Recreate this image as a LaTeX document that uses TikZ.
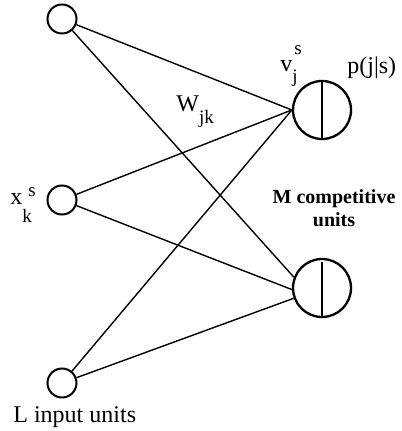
\documentclass[tikz,border=0pt]{standalone}
\usepackage{fontspec}
\setmainfont{Liberation Serif}
\usetikzlibrary{positioning}

\newcommand{\idx}{\fontsize{9.5}{10}\selectfont}

\begin{document}
\begin{tikzpicture}[
  x=0.5pt,y=-0.5pt,
  inunit/.style={draw,circle,line width=1pt,minimum size=14.5pt,inner sep=0pt},
  outunit/.style={draw,circle,line width=1.15pt,minimum size=29pt,inner sep=0pt},
  link/.style={line width=0.7pt},
  divider/.style={line width=0.65pt},
  lbl/.style={anchor=base west,inner sep=0pt,font=\fontsize{12}{14}\selectfont},
  group label/.style={align=center,inner sep=0pt,font=\fontsize{10}{11.5}\selectfont\bfseries}
]
\useasboundingbox (0,0) rectangle (401,431);
% input layer
\node[inunit] (in1) at (62,19) {};
\node[inunit] (in2) at (62,200) {};
\node[inunit] (in3) at (62,383) {};
% competitive layer
\node[outunit] (out1) at (322,110) {};
\node[outunit] (out2) at (322,288) {};
\draw[divider] (out1.north) -- (out1.south);
\draw[divider] ([yshift=-2pt]out2.north) -- (out2.south);
% weights
\draw[link] (in1) -- (out1.west);
\draw[link] (in2) -- (out1.west);
\draw[link] (in3) -- (out1.west);
\draw[link] (in1) -- (out2.159);
\draw[link] (in2) -- (out2.183);
\draw[link] (in3) -- (out2.200);
% labels
\node[lbl] (wlbl) at (176,112) {W\raisebox{-6pt}{\idx jk}};
\node[lbl] (vlbl) at (280,72) {v\rlap{\hspace{1pt}\raisebox{8.5pt}{\idx s}}\raisebox{-5.5pt}{\idx j}};
\node[lbl] (plbl) at (347,74) {p(j|s)};
\node[lbl] (xlbl) at (10,205) {x\rlap{\hspace{3pt}\raisebox{4pt}{\idx s}}\raisebox{-9pt}{\idx k}};
\node[lbl] (llbl) at (13,422) {L input units};
\node[group label] (mlbl) at (334,208) {M competitive\\units};
\end{tikzpicture}
\end{document}
